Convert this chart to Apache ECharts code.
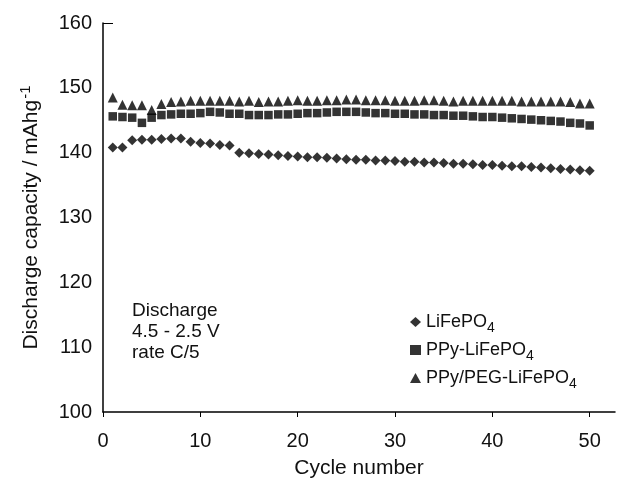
<!DOCTYPE html>
<html>
<head>
<meta charset="utf-8">
<script src="https://cdn.jsdelivr.net/npm/echarts@6/dist/echarts.min.js"></script>
<style>
  html, body { margin: 0; padding: 0; background: #fff; }
  #chart { width: 618px; height: 487px; }
</style>
</head>
<body>
<div id="chart"></div>
<script>
// cycle numbers 1..50
var cycles = [1, 2, 3, 4, 5, 6, 7, 8, 9, 10, 11, 12, 13, 14, 15, 16, 17, 18, 19, 20,
  21, 22, 23, 24, 25, 26, 27, 28, 29, 30, 31, 32, 33, 34, 35, 36, 37, 38, 39, 40,
  41, 42, 43, 44, 45, 46, 47, 48, 49, 50];

// discharge capacity, mAh/g
var liFePO4 = [140.8, 140.8, 141.9, 142.0, 142.0, 142.1, 142.2, 142.2, 141.7, 141.5,
  141.4, 141.2, 141.1, 140.0, 139.9, 139.8, 139.7, 139.6, 139.5, 139.4,
  139.3, 139.3, 139.2, 139.1, 139.0, 138.9, 138.9, 138.8, 138.8, 138.7,
  138.6, 138.6, 138.5, 138.5, 138.4, 138.3, 138.3, 138.2, 138.1, 138.1,
  138.0, 137.9, 137.9, 137.8, 137.7, 137.6, 137.5, 137.4, 137.3, 137.2];
var ppyLiFePO4 = [145.6, 145.5, 145.4, 144.6, 145.4, 145.8, 145.9, 146.0, 146.0, 146.1,
  146.3, 146.2, 146.0, 146.0, 145.8, 145.8, 145.8, 145.9, 145.9, 146.0,
  146.1, 146.1, 146.2, 146.3, 146.3, 146.3, 146.2, 146.1, 146.1, 146.0,
  146.0, 145.9, 145.9, 145.8, 145.8, 145.7, 145.7, 145.6, 145.5, 145.5,
  145.4, 145.3, 145.2, 145.1, 145.0, 144.9, 144.8, 144.6, 144.5, 144.2];
var ppyPegLiFePO4 = [148.5, 147.4, 147.3, 147.3, 146.6, 147.5, 147.8, 147.9, 148.0, 148.0,
  148.0, 148.0, 148.0, 147.9, 148.0, 147.8, 147.9, 147.9, 148.0, 148.1,
  148.0, 148.0, 148.1, 148.1, 148.2, 148.2, 148.1, 148.1, 148.1, 148.0,
  148.0, 148.0, 148.1, 148.1, 148.0, 147.9, 148.0, 148.0, 148.0, 148.0,
  148.0, 148.0, 147.9, 147.9, 147.9, 147.9, 147.9, 147.8, 147.6, 147.6];

var xTicks = [0, 10, 20, 30, 40, 50];
var yTicks = [100, 110, 120, 130, 140, 150, 160];

function pairs(vals) {
  return vals.map(function (v, i) { return [cycles[i], v]; });
}

var FONT = "'Liberation Sans', Arial, sans-serif";
var chart = echarts.init(document.getElementById("chart"));

chart.setOption({
  animation: false,
  backgroundColor: "#fff",
  textStyle: { fontFamily: FONT },
  grid: { left: 103, right: 3, top: 23, bottom: 75 },
  legend: {
    orient: "vertical",
    left: 405,
    top: 308,
    itemGap: 6,
    itemWidth: 11,
    itemHeight: 10,
    itemTextGap: 10,
    data: ["LiFePO4", "PPy-LiFePO4", "PPy/PEG-LiFePO4"],
    formatter: function (name) {
      return name.replace("PO4", "PO{sub|4}");
    },
    textStyle: {
      fontFamily: FONT,
      fontSize: 18,
      color: "#111",
      rich: {
        sub: { fontSize: 14, verticalAlign: "bottom", padding: [12, 0, 0, 0], fontFamily: FONT, color: "#111" }
      }
    }
  },
  graphic: [{
    type: "text",
    left: 132,
    top: 300,
    style: {
      text: "Discharge\n4.5 - 2.5 V\nrate C/5",
      font: "19px " + FONT,
      lineHeight: 21,
      fill: "#111"
    }
  }],
  xAxis: {
    type: "value",
    min: 0,
    max: 52.6,
    name: "Cycle number",
    nameLocation: "middle",
    nameGap: 46,
    nameTextStyle: { fontSize: 21, color: "#111", fontFamily: FONT },
    axisLine: { lineStyle: { color: "#000", width: 1.5 } },
    axisTick: { customValues: xTicks, length: 5, lineStyle: { color: "#000" } },
    axisLabel: { customValues: xTicks, fontSize: 20, color: "#111", margin: 19 },
    splitLine: { show: false }
  },
  yAxis: {
    type: "value",
    min: 100,
    max: 160,
    interval: 10,
    name: "Discharge capacity / mAhg{sup|-1}",
    nameLocation: "middle",
    nameRotate: 90,
    nameGap: 58,
    nameTextStyle: {
      fontSize: 21,
      color: "#111",
      fontFamily: FONT,
      rich: { sup: { fontSize: 15, verticalAlign: "top", padding: [0, 0, 12, 1], color: "#111", fontFamily: FONT } }
    },
    axisLine: { show: true, lineStyle: { color: "#000", width: 1.5 } },
    axisTick: { customValues: [160], inside: true, length: 10, lineStyle: { color: "#000" } },
    axisLabel: { customValues: yTicks, fontSize: 20, color: "#111", margin: 11 },
    splitLine: { show: false }
  },
  series: [
    {
      name: "LiFePO4",
      type: "scatter",
      symbol: "diamond",
      symbolSize: [10, 10],
      itemStyle: { color: "#000" },
      data: pairs(liFePO4)
    },
    {
      name: "PPy-LiFePO4",
      type: "scatter",
      symbol: "rect",
      symbolSize: 8.5,
      itemStyle: { color: "#000" },
      data: pairs(ppyLiFePO4)
    },
    {
      name: "PPy/PEG-LiFePO4",
      type: "scatter",
      symbol: "triangle",
      symbolSize: [10, 10],
      itemStyle: { color: "#000" },
      data: pairs(ppyPegLiFePO4)
    }
  ]
});
</script>
</body>
</html>
